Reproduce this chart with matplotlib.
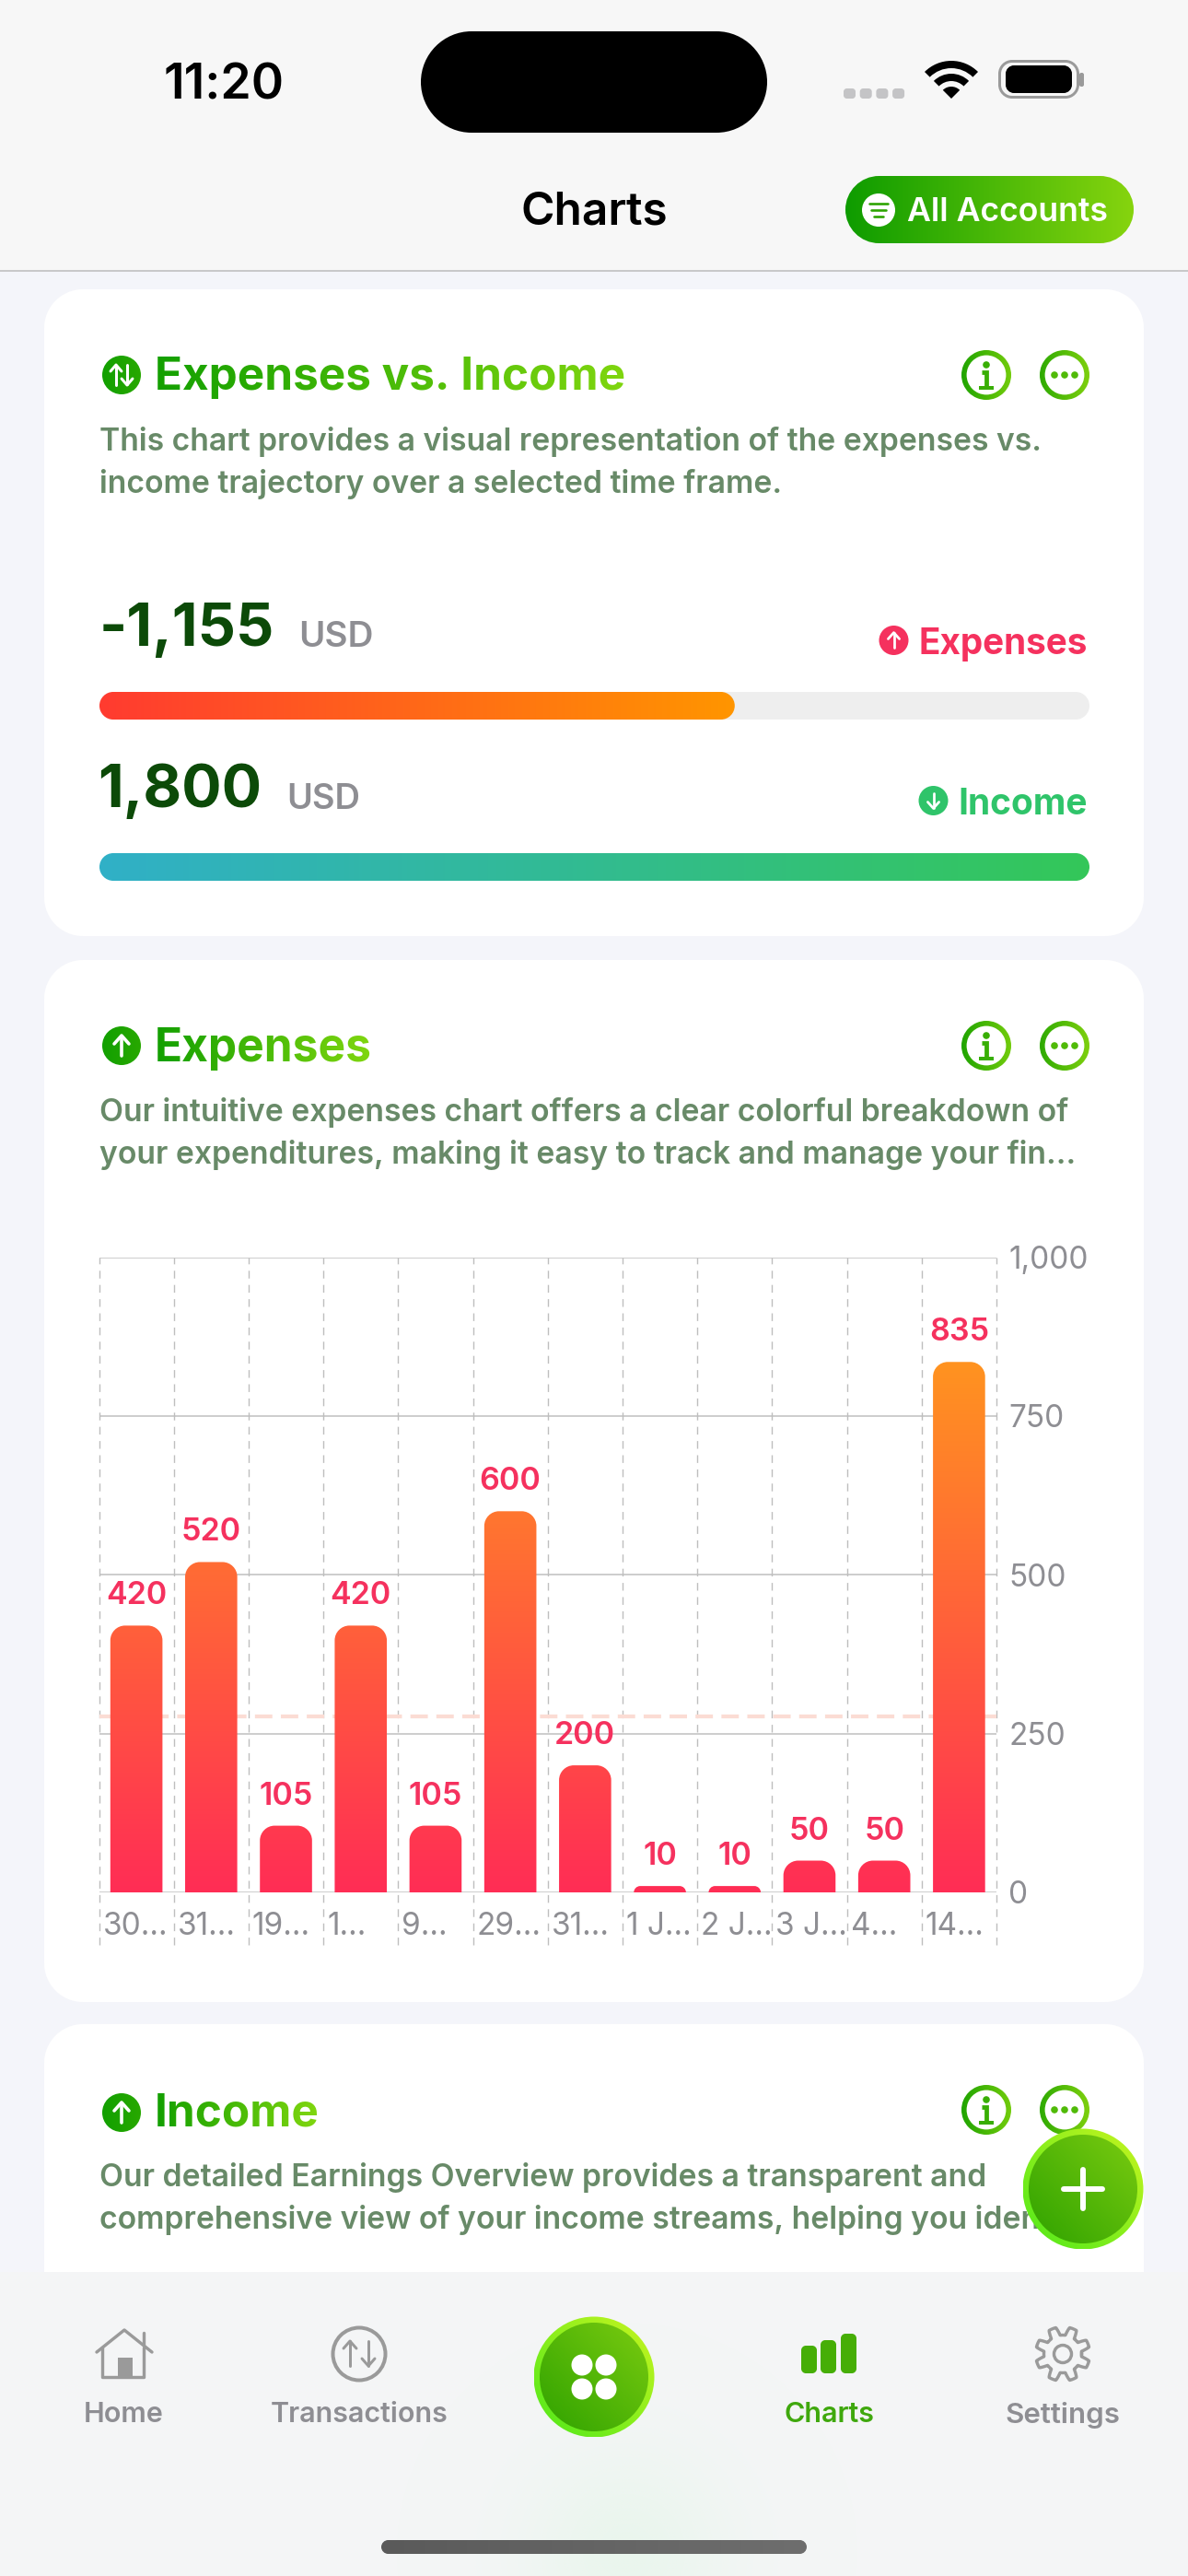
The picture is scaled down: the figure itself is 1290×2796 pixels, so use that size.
import numpy as np
import matplotlib
matplotlib.use("Agg")
import matplotlib.pyplot as plt
from matplotlib.path import Path
from matplotlib.patches import PathPatch, Circle, Wedge, Rectangle
from matplotlib.colors import to_rgb
from matplotlib.transforms import ScaledTranslation

categories = ["30…", "31…", "19…", "1…", "9…", "29…", "31…", "1 J…", "2 J…", "3 J…", "4…", "14…"]
expenses = [420, 520, 105, 420, 105, 600, 200, 10, 10, 50, 50, 835]
average_expense = 277
y_ticks = [0, 250, 500, 750, 1000]
y_tick_labels = ["0", "250", "500", "750", "1,000"]
total_expenses = 1155
total_income = 1800

plt.rcParams['font.family'] = ['Inter', 'DejaVu Sans']
W, H = 1290, 2796
fig = plt.figure(figsize=(W / 100, H / 100), dpi=100)
fig.patch.set_facecolor('#F4F5FA')
ui = fig.add_axes([0, 0, 1, 1], zorder=1)
ui.set_xlim(0, W); ui.set_ylim(H, 0); ui.axis('off')
renderer = fig.canvas.get_renderer()

_z = [10]
def z():
    _z[0] += 1
    return _z[0]

PX = 0.72
K = 0.55

def rrect(x0, y0, x1, y1, rx, ry=None, top_only=False):
    ry = rx if ry is None else ry
    rb, sb = (0, 0) if top_only else (rx, ry)
    v = [(x0, y0 + sb), (x0, y1 - ry),
         (x0, y1 - ry + K * ry), (x0 + rx - K * rx, y1), (x0 + rx, y1),
         (x1 - rx, y1),
         (x1 - rx + K * rx, y1), (x1, y1 - ry + K * ry), (x1, y1 - ry),
         (x1, y0 + sb),
         (x1, y0 + sb - K * sb), (x1 - rb + K * rb, y0), (x1 - rb, y0),
         (x0 + rb, y0),
         (x0 + rb - K * rb, y0), (x0, y0 + sb - K * sb), (x0, y0 + sb),
         (x0, y0 + sb)]
    c = [Path.MOVETO, Path.LINETO, Path.CURVE4, Path.CURVE4, Path.CURVE4, Path.LINETO,
         Path.CURVE4, Path.CURVE4, Path.CURVE4, Path.LINETO, Path.CURVE4, Path.CURVE4, Path.CURVE4,
         Path.LINETO, Path.CURVE4, Path.CURVE4, Path.CURVE4, Path.CLOSEPOLY]
    return Path(v, c)

def solid(path, color, ax=ui):
    p = PathPatch(path, fc=color, ec='none', zorder=z())
    ax.add_patch(p)
    return p

def grad(patch, ext, c0, c1, mode='h', ax=ui):
    a, b = np.array(to_rgb(c0)), np.array(to_rgb(c1))
    n = 128
    xx, yy = np.meshgrid(np.linspace(0, 1, n), np.linspace(0, 1, n))
    t = xx if mode == 'h' else (xx + (1 - yy)) / 2
    arr = a * (1 - t[..., None]) + b * t[..., None]
    x0, x1, y0, y1 = ext
    patch.set_facecolor('none'); patch.set_edgecolor('none')
    patch.set_zorder(z())
    ax.add_patch(patch)
    im = ax.imshow(arr, extent=(x0, x1, y1, y0), aspect='auto', zorder=z(), interpolation='bilinear')
    im.set_clip_path(patch)
    return im

def circ_grad(cx, cy, r, c0, c1, mode='diag'):
    grad(Circle((cx, cy), r), (cx - r, cx + r, cy - r, cy + r), c0, c1, mode)

def ring_grad(cx, cy, r, w, c0, c1, mode='h'):
    grad(Wedge((cx, cy), r, 0, 360, width=w), (cx - r, cx + r, cy - r, cy + r), c0, c1, mode)

def line(xs, ys, color, px=3, cap='round', join='round', ax=ui):
    ax.plot(xs, ys, color=color, lw=px * PX, solid_capstyle=cap, solid_joinstyle=join, zorder=z())

def txt(x, y, s, width=None, size=None, color='k', weight='normal', ha='left', filt=None):
    t = ui.text(x, y, s, color=color, fontweight=weight, fontsize=size or 20, ha=ha, va='center', zorder=z())
    if width is not None:
        w = t.get_window_extent(renderer).width
        t.set_fontsize(t.get_fontsize() * width / w)
    if filt is not None:
        t.set_agg_filter(filt)
    return t.get_fontsize()

def text_gradient(c0, c1):
    a, b = np.array(to_rgb(c0)), np.array(to_rgb(c1))
    def f(img, dpi):
        img = img.copy()
        t = np.linspace(0, 1, img.shape[1])[None, :, None]
        img[..., :3] = a * (1 - t) + b * t
        return img, 0, 0
    return f

GREEN0, GREEN1 = '#14A000', '#7FD60F'
TG = text_gradient(GREEN0, GREEN1)
DESC = '#688A68'
GRAY = '#8E8E93'
DARK = '#0C4A08'
RED = '#F5315E'
GRN = '#2FC46A'

# ---- cards ----
solid(rrect(48, 314, 1242, 1016, 42), 'white')
solid(rrect(48, 1042, 1242, 2173, 42), 'white')
solid(rrect(48, 2197, 1242, 2600, 42), 'white')

# ---- status and navigation bar ----
solid(rrect(0, 0, W, 293, 0.01), '#F7F7F7')
line([0, W], [293.5, 293.5], '#BEBEBE', 1.6, cap='butt')
txt(177, 93, "11:20", width=131, color='black', weight='semibold')
solid(rrect(457, 34, 833, 144, 55), 'black')
for i in range(4):
    solid(rrect(916 + i * 17.7, 96, 929 + i * 17.7, 107, 3.5), '#C4C4C6')
for r, w in [(41, 8), (27, 8)]:
    ui.add_patch(Wedge((1033, 107), r, 225, 315, width=w, fc='black', ec='none', zorder=z()))
ui.add_patch(Wedge((1033, 107), 13, 225, 315, fc='black', ec='none', zorder=z()))
solid(rrect(1084, 65, 1172, 107, 15), '#9A9A9A')
solid(rrect(1087, 68, 1169, 104, 12), '#F7F7F7')
solid(rrect(1092, 71, 1164, 101, 9), 'black')
solid(rrect(1172, 79, 1177, 94, 2), '#9A9A9A')
txt(645, 231, "Charts", width=159, color='black', weight='semibold', ha='center')
grad(PathPatch(rrect(918, 191, 1231, 264, 36.5)), (918, 1231, 191, 264), '#0E9C00', '#86D40E')
ui.add_patch(Circle((954, 228), 18, fc='white', ec='none', zorder=z()))
for dy, hw in [(-7, 10), (0, 8), (7, 5)]:
    line([954 - hw, 954 + hw], [228 + dy, 228 + dy], '#2BA300', 2.6)
txt(985, 230, "All Accounts", width=219, color='white', weight='semibold')

# ---- card icons ----
def info_more(cy):
    ring_grad(1071, cy, 27, 5.6, '#1FA400', '#72CC0C')
    ui.add_patch(Circle((1071, cy - 11), 3.8, fc='#38AE04', ec='none', zorder=z()))
    line([1066, 1071, 1071], [cy - 3, cy - 3, cy + 13], '#38AE04', 4.8, cap='butt', join='miter')
    line([1063, 1079], [cy + 14, cy + 14], '#38AE04', 4, cap='butt')
    ring_grad(1156, cy, 27, 5.6, '#2EAA02', '#7ED00E')
    for dx in (-11, 0, 11):
        ui.add_patch(Circle((1156 + dx, cy), 3.8, fc='#50BA08', ec='none', zorder=z()))

def arrow_icon(cx, cy, r, kind, c0, c1):
    if c1 is None:
        ui.add_patch(Circle((cx, cy), r, fc=c0, ec='none', zorder=z()))
    else:
        circ_grad(cx, cy, r, c0, c1, 'h')
    s = r / 21
    if kind == 'up':
        line([cx, cx], [cy + 11 * s, cy - 10 * s], 'white', 3.6 * s)
        line([cx - 8 * s, cx, cx + 8 * s], [cy - 2 * s, cy - 11 * s, cy - 2 * s], 'white', 3.6 * s)
    elif kind == 'down':
        line([cx, cx], [cy - 11 * s, cy + 10 * s], 'white', 3.6 * s)
        line([cx - 8 * s, cx, cx + 8 * s], [cy + 2 * s, cy + 11 * s, cy + 2 * s], 'white', 3.6 * s)
    else:
        line([cx - 6, cx - 6], [cy + 11, cy - 10], 'white', 3)
        line([cx - 12, cx - 6, cx], [cy - 4, cy - 11, cy - 4], 'white', 3)
        line([cx + 6, cx + 6], [cy - 11, cy + 10], 'white', 3)
        line([cx, cx + 6, cx + 12], [cy + 4, cy + 11, cy + 4], 'white', 3)

# ---- card 1 ----
arrow_icon(132, 407, 21, 'both', '#12A000', '#28A800')
txt(168, 410, "Expenses vs. Income", width=511, color=GREEN0, weight='bold', filt=TG)
info_more(407)
fs_desc = txt(108, 480, "This chart provides a visual representation of the expenses vs.", width=1023, color=DESC, weight='semibold')
txt(108, 525, "income trajectory over a selected time frame.", size=fs_desc, color=DESC, weight='semibold')
txt(108, 684, "-1,155", width=190, color=DARK, weight='bold')
txt(324, 692, "USD", width=81, color=GRAY, weight='semibold')
arrow_icon(970.5, 695, 16, 'up', RED, None)
txt(997, 699, "Expenses", width=184, color=RED, weight='bold')
txt(106.5, 859, "1,800", width=178, color=DARK, weight='bold')
txt(311, 868, "USD", width=80, color=GRAY, weight='semibold')
arrow_icon(1013.5, 869, 16, 'down', GRN, None)
txt(1040, 873, "Income", width=141, color=GRN, weight='bold')

def progress(y0, y1, value, total, c0, c1, track):
    ax = fig.add_axes([108 / W, 1 - y1 / H, 1075 / W, (y1 - y0) / H], zorder=2)
    ax.set_xlim(0, total); ax.set_ylim(0, 1); ax.axis('off')
    rx = 15 / 1075 * total
    if track:
        ax.add_patch(PathPatch(rrect(0, 0, total, 1, rx, 0.5), fc=track, ec='none', zorder=1))
    grad(PathPatch(rrect(0, 0, value, 1, rx, 0.5)), (0, value, 1, 0), c0, c1, 'h', ax=ax)
    ax.set_xlim(0, total); ax.set_ylim(0, 1)

scale_total = max(total_expenses, total_income)
progress(751, 781, total_expenses, scale_total, '#FF3B30', '#FF9500', '#EEEEEE')
progress(926, 956, total_income, scale_total, '#30B0C7', '#34C759', None)

# ---- card 2 ----
arrow_icon(132, 1135, 21, 'up', '#12A000', '#28A800')
txt(168, 1138, "Expenses", width=236, color=GREEN0, weight='bold', filt=TG)
info_more(1135)
txt(108, 1207, "Our intuitive expenses chart offers a clear colorful breakdown of", size=fs_desc, color=DESC, weight='semibold')
txt(108, 1253, "your expenditures, making it easy to track and manage your fin…", size=fs_desc, color=DESC, weight='semibold')

# bar chart
chart_l, chart_r, chart_t, chart_b = 107.5, 1082, 1364.5, 2054
ax = fig.add_axes([chart_l / W, 1 - chart_b / H, (chart_r - chart_l) / W, (chart_b - chart_t) / H], zorder=3)
ax.patch.set_alpha(0)
n = len(expenses)
ymax = y_ticks[-1]
px_x = n / (chart_r - chart_l)
px_y = ymax / (chart_b - chart_t)
bars = ax.bar(np.arange(n) + 0.5, expenses, width=0.697, color='none', zorder=5)
top_value = max(expenses)
gcol = np.linspace(0, 1, 256)[:, None, None]
garr = np.array(to_rgb('#FF2D55')) * (1 - gcol) + np.array(to_rgb('#FF9320')) * gcol
for b in bars:
    h = b.get_height()
    rpx = min(16, h / px_y)
    p = PathPatch(rrect(b.get_x(), 0, b.get_x() + b.get_width(), h, rpx * px_x, rpx * px_y, top_only=True),
                  fc='none', ec='none', zorder=5)
    ax.add_patch(p)
    im = ax.imshow(garr, extent=(0, n, 0, top_value), origin='lower', aspect='auto', zorder=6, interpolation='bilinear')
    im.set_clip_path(p)
for x, v in zip(np.arange(n) + 0.5, expenses):
    ax.annotate(str(v), (x, v), xytext=(0, 32 * PX), textcoords='offset points', ha='center', va='center',
                color=RED, fontsize=24.5, fontweight='semibold', zorder=7)
ax.set_xlim(0, n); ax.set_ylim(0, ymax)
ax.axhline(average_expense, color='#FBDCD4', lw=4.2 * PX, dashes=(4.5, 2.2), zorder=3)
ax.set_yticks(y_ticks, y_tick_labels)
ax.yaxis.tick_right()
ax.set_xticks(np.arange(n), categories)
ax.tick_params(axis='y', length=0, pad=13 * PX, labelsize=24, labelcolor=GRAY)
ax.tick_params(axis='x', length=0, pad=21 * PX, labelsize=24, labelcolor=GRAY)
off = ScaledTranslation(4 / 100, 0, fig.dpi_scale_trans)
for lab in ax.get_xticklabels():
    lab.set_ha('left')
    lab.set_transform(lab.get_transform() + off)
ax.grid(axis='y', color='#BEBEBE', lw=1.5 * PX, zorder=1)
ax.set_axisbelow(True)
ax.vlines(np.arange(n + 1), -(2111 - chart_b) * px_y, ymax, colors='#BEBEBE', lw=1.4 * PX,
          linestyles=(0, (6, 5)), clip_on=False, zorder=2)
for s in ax.spines.values():
    s.set_visible(False)

# ---- card 3 ----
arrow_icon(132, 2293, 21, 'up', '#12A000', '#28A800')
txt(168, 2295, "Income", width=179, color=GREEN0, weight='bold', filt=TG)
info_more(2290)
txt(108, 2364, "Our detailed Earnings Overview provides a transparent and", size=fs_desc, color=DESC, weight='semibold')
txt(108, 2409, "comprehensive view of your income streams, helping you ident…", size=fs_desc, color=DESC, weight='semibold')

# ---- tab bar ----
solid(rrect(0, 2466, W, H, 0.01), '#F4F5F6')
yy, xx = np.mgrid[2466:H:4, 0:W:4]
glow = np.exp(-((xx - 680) / 110.0) ** 2 - ((yy - 2770) / 110.0) ** 2)
rgba = np.zeros(glow.shape + (4,))
rgba[..., :3] = to_rgb('#E6F6EA'); rgba[..., 3] = glow * 0.7
ui.imshow(rgba, extent=(0, W, H, 2466), aspect='auto', zorder=z(), interpolation='bilinear')

NAV = '#9A9A9A'
line([105, 135, 165], [2553, 2529, 2553], NAV, 3.4)
line([111, 111, 156, 156], [2548, 2580, 2580, 2548], NAV, 3.4)
line([156, 156], [2532, 2545], NAV, 3.4)
ui.add_patch(Rectangle((127.5, 2559), 16.5, 21, fc=NAV, ec='none', zorder=z()))
txt(134, 2621, "Home", width=87, color=GRAY, weight='semibold', ha='center')
ui.add_patch(Circle((390, 2555), 28.5, fc='none', ec=NAV, lw=4 * PX, zorder=z()))
line([380, 380], [2568, 2541], NAV, 3)
line([373, 380, 387], [2549, 2541, 2549], NAV, 3)
line([400, 400], [2541, 2568], NAV, 3)
line([393, 400, 407], [2560, 2568, 2560], NAV, 3)
txt(390, 2621, "Transactions", width=193, color=GRAY, weight='semibold', ha='center')
circ_grad(645, 2580, 65.5, '#4FE81A', '#C8F520')
circ_grad(645, 2580, 59, '#2FA200', '#7ACB10')
for dx in (-13, 13):
    for dy in (-13, 13):
        ui.add_patch(Circle((645 + dx, 2580 + dy), 11.5, fc='white', ec='none', zorder=z()))
for x0, top in [(870, 2546), (891, 2540), (913, 2533)]:
    solid(rrect(x0, top, x0 + 17, 2576, 5), '#46AE06')
txt(900, 2621, "Charts", width=98, color='#3FA80D', weight='semibold', ha='center')
th = np.linspace(0, 2 * np.pi, 361)
rad = 25 + 4.5 * np.clip(2.2 * np.cos(8 * (th - np.pi / 8)), -1, 1)
ui.plot(1154 + rad * np.cos(th), 2555 + rad * np.sin(th), color=NAV, lw=3.4 * PX, zorder=z())
ui.add_patch(Circle((1154, 2555), 9.5, fc='none', ec=NAV, lw=3.4 * PX, zorder=z()))
txt(1154, 2621, "Settings", width=125, color=GRAY, weight='semibold', ha='center')
grad(PathPatch(rrect(414, 2757, 876, 2772, 7.5)), (414, 876, 2757, 2772), '#5A5A5A', '#6E6E6E')

# ---- floating button ----
circ_grad(1176, 2376, 65.5, '#4FE81A', '#C8F520')
circ_grad(1176, 2376, 59, '#2FA200', '#7ACB10')
line([1176, 1176], [2355, 2397], 'white', 6)
line([1155, 1197], [2376, 2376], 'white', 6)

ui.set_xlim(0, W); ui.set_ylim(H, 0)
fig.savefig('out.png', dpi=100)
